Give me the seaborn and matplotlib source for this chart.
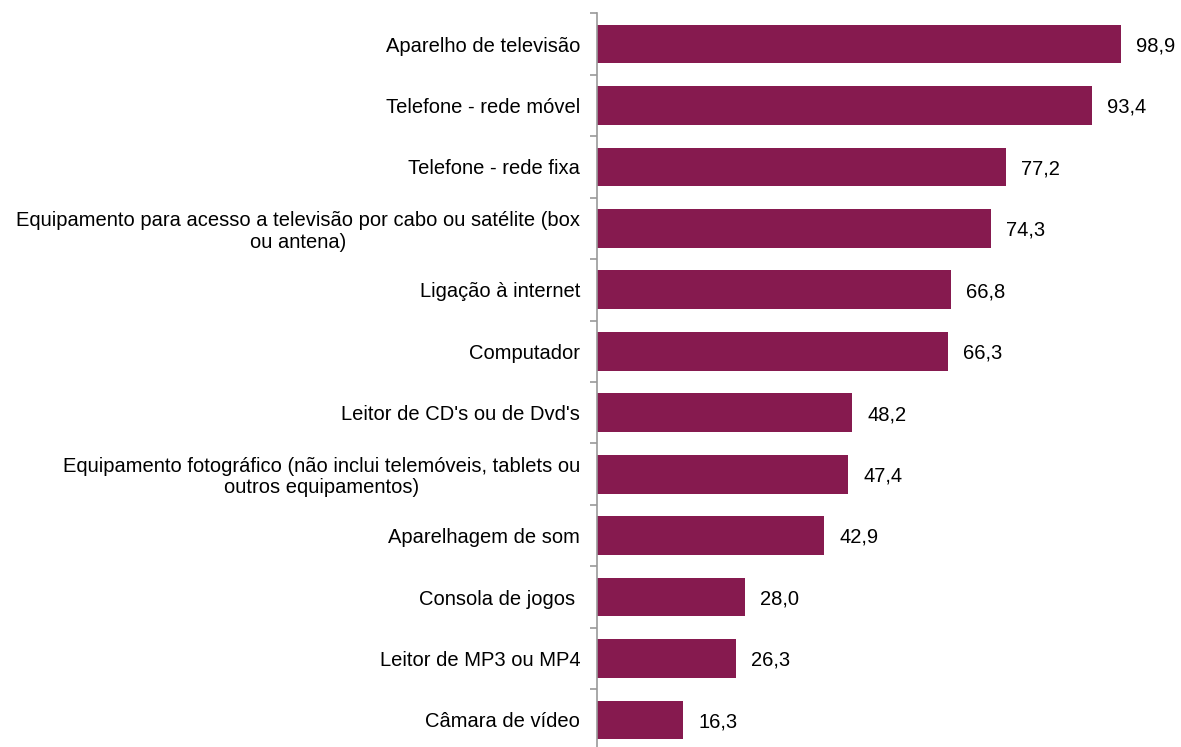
import pandas as pd
import numpy as np
import matplotlib.pyplot as plt
import seaborn as sns

# data
categorias = [
    'Aparelho de televisão',
    'Telefone - rede móvel',
    'Telefone - rede fixa',
    'Equipamento para acesso a televisão por cabo ou satélite (box\nou antena)',
    'Ligação à internet',
    'Computador',
    "Leitor de CD's ou de Dvd's",
    'Equipamento fotográfico (não inclui telemóveis, tablets ou\noutros equipamentos)',
    'Aparelhagem de som',
    'Consola de jogos ',
    'Leitor de MP3 ou MP4',
    'Câmara de vídeo',
]
valores = [98.9, 93.4, 77.2, 74.3, 66.8, 66.3, 48.2, 47.4, 42.9, 28.0, 26.3, 16.3]

df = pd.DataFrame({'cat': categorias, 'val': valores})

sns.set_style('white')
plt.rcParams['font.family'] = ['Liberation Sans', 'DejaVu Sans']

fig = plt.figure(figsize=(11.81, 7.47), dpi=100)
ax = fig.add_axes([597 / 1181, -3.7 / 747, 583 / 1181, 737.4 / 747])

sns.barplot(data=df, x='val', y='cat', orient='h', color='#861A4F',
            width=0.63, saturation=1, linewidth=0, ax=ax)

# value labels
for i, v in enumerate(valores):
    ax.text(v + 2.8, i + 0.03, f'{v:.1f}'.replace('.', ','), va='center', ha='left',
            fontsize=14.5, color='black')

ax.set_xlim(0, 110)
ax.set_ylim(len(categorias) - 0.5, -0.5)
ax.set_xlabel('')
ax.set_ylabel('')
ax.set_xticks([])

ax.set_yticks(range(len(categorias)))
ax.set_yticklabels(categorias, fontsize=14.5, multialignment='center',
                   color='black', linespacing=1.15)
ax.tick_params(axis='y', which='major', length=0, pad=12)
ax.set_yticks(np.arange(-0.5, len(categorias), 1), minor=True)
ax.tick_params(axis='y', which='minor', left=True, length=5, width=1.2,
               color='#999999', direction='out')

for s in ['top', 'right', 'bottom']:
    ax.spines[s].set_visible(False)
ax.spines['left'].set_color('#999999')
ax.spines['left'].set_linewidth(1.2)

fig.savefig('out.png', dpi=100)
